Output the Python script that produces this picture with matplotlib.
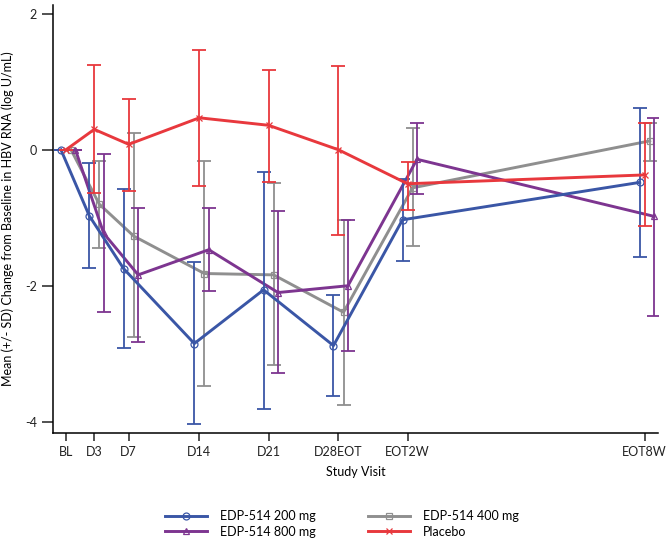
import numpy as np
import matplotlib
matplotlib.use('Agg')
import matplotlib.pyplot as plt

plt.rcParams['font.family'] = ['Lato', 'DejaVu Sans']

################################################################################

visits = ['BL', 'D3', 'D7', 'D14', 'D21', 'D28EOT', 'EOT2W', 'EOT8W']
visit_pos = [0, 2.93, 6.5, 13.81, 20.98, 28.22, 35.37, 59.93]

mean_200 = [0, -0.97, -1.75, -2.85, -2.06, -2.88, -1.03, -0.48]
upper_200 = [0, -0.20, -0.57, -1.65, -0.33, -2.13, -0.43, 0.62]
lower_200 = [0, -1.74, -2.92, -4.03, -3.81, -3.62, -1.64, -1.57]

mean_400 = [0, -0.80, -1.27, -1.82, -1.84, -2.39, -0.56, 0.13]
upper_400 = [0, -0.17, 0.24, -0.17, -0.49, -1.03, 0.32, 0.40]
lower_400 = [0, -1.44, -2.76, -3.47, -3.17, -3.76, -1.41, -0.16]

mean_800 = [0, -1.23, -1.84, -1.47, -2.10, -2.00, -0.14, -0.98]
upper_800 = [0, -0.06, -0.86, -0.86, -0.90, -1.03, 0.39, 0.46]
lower_800 = [0, -2.39, -2.83, -2.07, -3.28, -2.96, -0.65, -2.45]

mean_pbo = [0, 0.30, 0.08, 0.47, 0.36, 0.00, -0.50, -0.37]
upper_pbo = [0, 1.24, 0.75, 1.47, 1.18, 1.23, -0.18, 0.40]
lower_pbo = [0, -0.64, -0.60, -0.54, -0.47, -1.25, -0.89, -1.12]

################################################################################

series = [
    # label, mean, upper, lower, color, marker, x offset
    ('EDP-514 200 mg', mean_200, upper_200, lower_200, '#3a56a6', 'o', -0.52),
    ('EDP-514 800 mg', mean_800, upper_800, lower_800, '#7d3590', '^', 0.98),
    ('EDP-514 400 mg', mean_400, upper_400, lower_400, '#8f8f8f', 's', 0.52),
    ('Placebo', mean_pbo, upper_pbo, lower_pbo, '#e8383d', 'x', 0.0),
]
zorders = {'EDP-514 400 mg': 2, 'EDP-514 800 mg': 3,
           'EDP-514 200 mg': 4, 'Placebo': 5}

fig = plt.figure(figsize=(6.70, 5.49), dpi=100)
ax = fig.add_axes([0.079, 0.212, 0.903, 0.779])

handles = []
for label, mean, upper, lower, color, marker, off in series:
    x = np.array(visit_pos) + off
    mean = np.array(mean)
    yerr = np.vstack([mean - np.array(lower), np.array(upper) - mean])
    z = zorders[label]
    ax.errorbar(x, mean, yerr=yerr, fmt='none', ecolor=color,
                elinewidth=1.3, capsize=5, capthick=1.3, zorder=z)
    line, = ax.plot(x, mean, color=color, lw=2.1, marker=marker,
                    markersize=5, markerfacecolor='none',
                    markeredgewidth=0.9, label=label, zorder=z + 0.5)
    handles.append(line)

ax.set_xlim(-1.35, 61.3)
ax.set_ylim(-4.16, 2.13)
ax.set_xticks(visit_pos)
ax.set_xticklabels(visits)
ax.set_yticks([-4, -2, 0, 2])
ax.set_yticklabels(['-4', '-2', '0', '2'])

for side in ['top', 'right']:
    ax.spines[side].set_visible(False)
for side in ['left', 'bottom']:
    ax.spines[side].set_linewidth(1.1)
ax.tick_params(axis='both', labelsize=9, colors='#222222',
               width=1.1, length=6)
ax.tick_params(axis='y', length=8)

ax.set_xlabel('Study Visit', fontsize=9, labelpad=6)
ax.set_ylabel('Mean (+/- SD) Change from Baseline in HBV RNA (log U/mL)',
              fontsize=9, labelpad=8)

fig.legend(handles=handles, loc='lower center', ncol=2, frameon=False,
           fontsize=9, bbox_to_anchor=(0.51, 0.0), handlelength=3.4,
           handletextpad=1.0, columnspacing=4.2, labelspacing=0.3)

fig.savefig('out.png', dpi=100)
